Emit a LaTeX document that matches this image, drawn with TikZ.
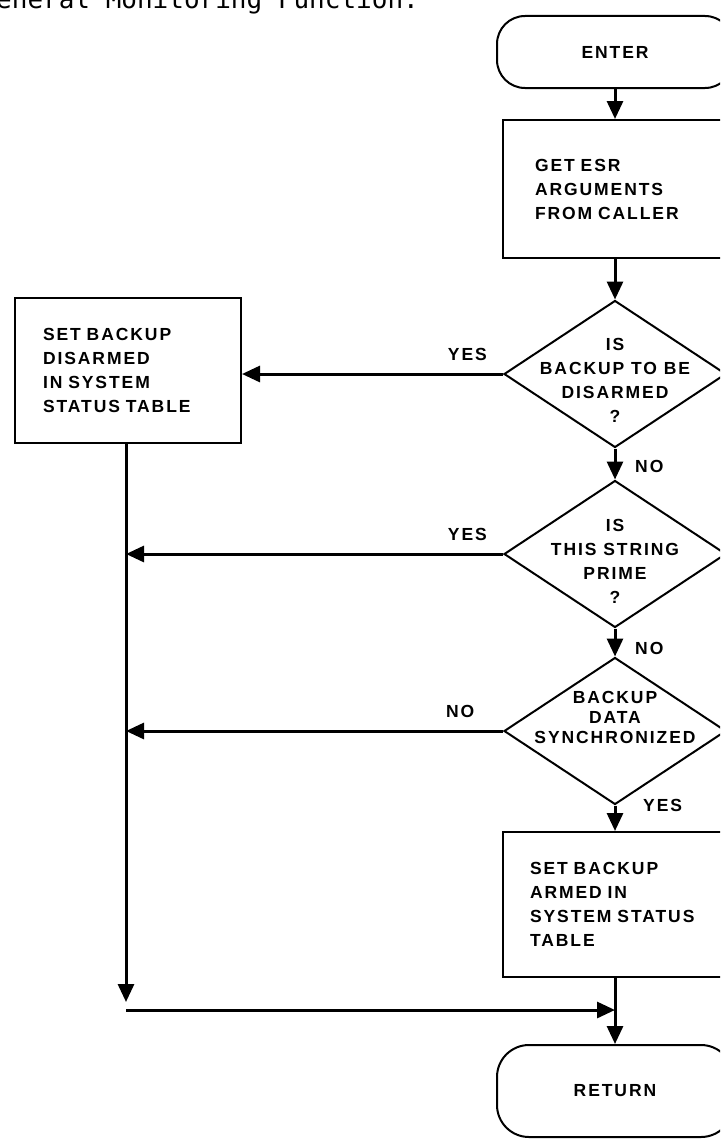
\documentclass[tikz,border=0pt]{standalone}
\usepackage{fontspec}
\setmainfont{Liberation Sans}
\newfontfamily\chartfont{Liberation Sans}[LetterSpace=11]
\newfontfamily\headfont{DejaVu Sans Mono}
\usetikzlibrary{shapes.geometric,arrows.meta}

\begin{document}
\begin{tikzpicture}[x=1pt,y=-1pt,
  every node/.style={font=\chartfont\bfseries\fontsize{17.5}{24}\selectfont},
  terminal/.style={draw, line width=2pt, rounded corners=28pt,
    minimum width=236pt, minimum height=72pt, inner sep=0pt},
  process/.style={draw, line width=2pt, rectangle, align=left, inner ysep=0pt},
  decision/.style={draw, line width=2pt, diamond,
    minimum width=222pt, minimum height=147pt, inner sep=0pt},
  dtext/.style={align=center, inner sep=0pt},
  branch/.style={inner sep=0pt},
  flow/.style={line width=3pt, -{Triangle[length=18pt,width=16pt]}}
]
\useasboundingbox (0,0) rectangle (720,1140);
\clip (0,0) rectangle (720,1140);

% heading line, cut by the top edge
\node[branch, anchor=base west, font=\headfont\fontsize{26}{26}\selectfont]
  (head) at (-4,9) {eneral Monitoring Function.};

% main column
\node[terminal] (enter) at (615,52) {ENTER};
\node[process, inner xsep=32pt, text width=160pt, minimum height=138pt] (get) at (615,189)
  {GET ESR\\ARGUMENTS\\FROM CALLER};
\node[decision] (d1) at (615,374) {};
\node[dtext] (d1t) at (615,380) {IS\\BACKUP TO BE\\DISARMED\\?};
\node[decision] (d2) at (615,554) {};
\node[dtext] (d2t) at (615,561) {IS\\THIS STRING\\PRIME\\?};
\node[decision] (d3) at (615,731) {};
\node[dtext, font=\chartfont\bfseries\fontsize{17.5}{20}\selectfont] (d3t) at (615,717)
  {BACKUP\\DATA\\SYNCHRONIZED};
\node[process, inner xsep=27pt, text width=170pt, minimum height=145pt] (armed) at (615,904.5)
  {SET BACKUP\\ARMED IN\\SYSTEM STATUS\\TABLE};
\node[terminal, minimum height=92pt, rounded corners=32pt] (ret) at (615,1091) {RETURN};

% left column
\node[process, inner xsep=28pt, text width=170pt, minimum height=145pt] (disarm) at (128,370.5)
  {SET BACKUP\\DISARMED\\IN SYSTEM\\STATUS TABLE};

% branch labels
\node[branch, anchor=south east] (y1) at ([xshift=-16pt,yshift=13pt]d1.west) {YES};
\node[branch, anchor=south east] (y2) at ([xshift=-16pt,yshift=13pt]d2.west) {YES};
\node[branch, anchor=south west] (n3) at ([xshift=-57pt,yshift=13pt]d3.west) {NO};
\node[branch, anchor=west] (n1) at ([xshift=20pt,yshift=-18pt]d1.south) {NO};
\node[branch, anchor=west] (n2) at ([xshift=20pt,yshift=-20pt]d2.south) {NO};
\node[branch, anchor=west] (y3) at ([xshift=28pt]d3.south) {YES};

% junction points of the collecting line
\coordinate (trunkend) at (126,1002);
\coordinate (joinL) at (126,1010);
\coordinate (joinR) at (615,1010);

% connectors
\draw[flow] (enter.south) -- (get.north);
\draw[flow] (get.south) -- (d1.north);
\draw[flow] (d1.south) -- (d2.north);
\draw[flow] (d2.south) -- (d3.north);
\draw[flow] (d3.south) -- (armed.north);
\draw[flow] (d1.west) -- (d1.west -| disarm.east);
\draw[flow] (d2.west) -- (d2.west -| trunkend);
\draw[flow] (d3.west) -- (d3.west -| trunkend);
\draw[flow] (disarm.south -| trunkend) -- (trunkend);
\draw[flow] (joinL) -- (joinR);
\draw[flow] (armed.south) -- (ret.north);
\end{tikzpicture}
\end{document}
